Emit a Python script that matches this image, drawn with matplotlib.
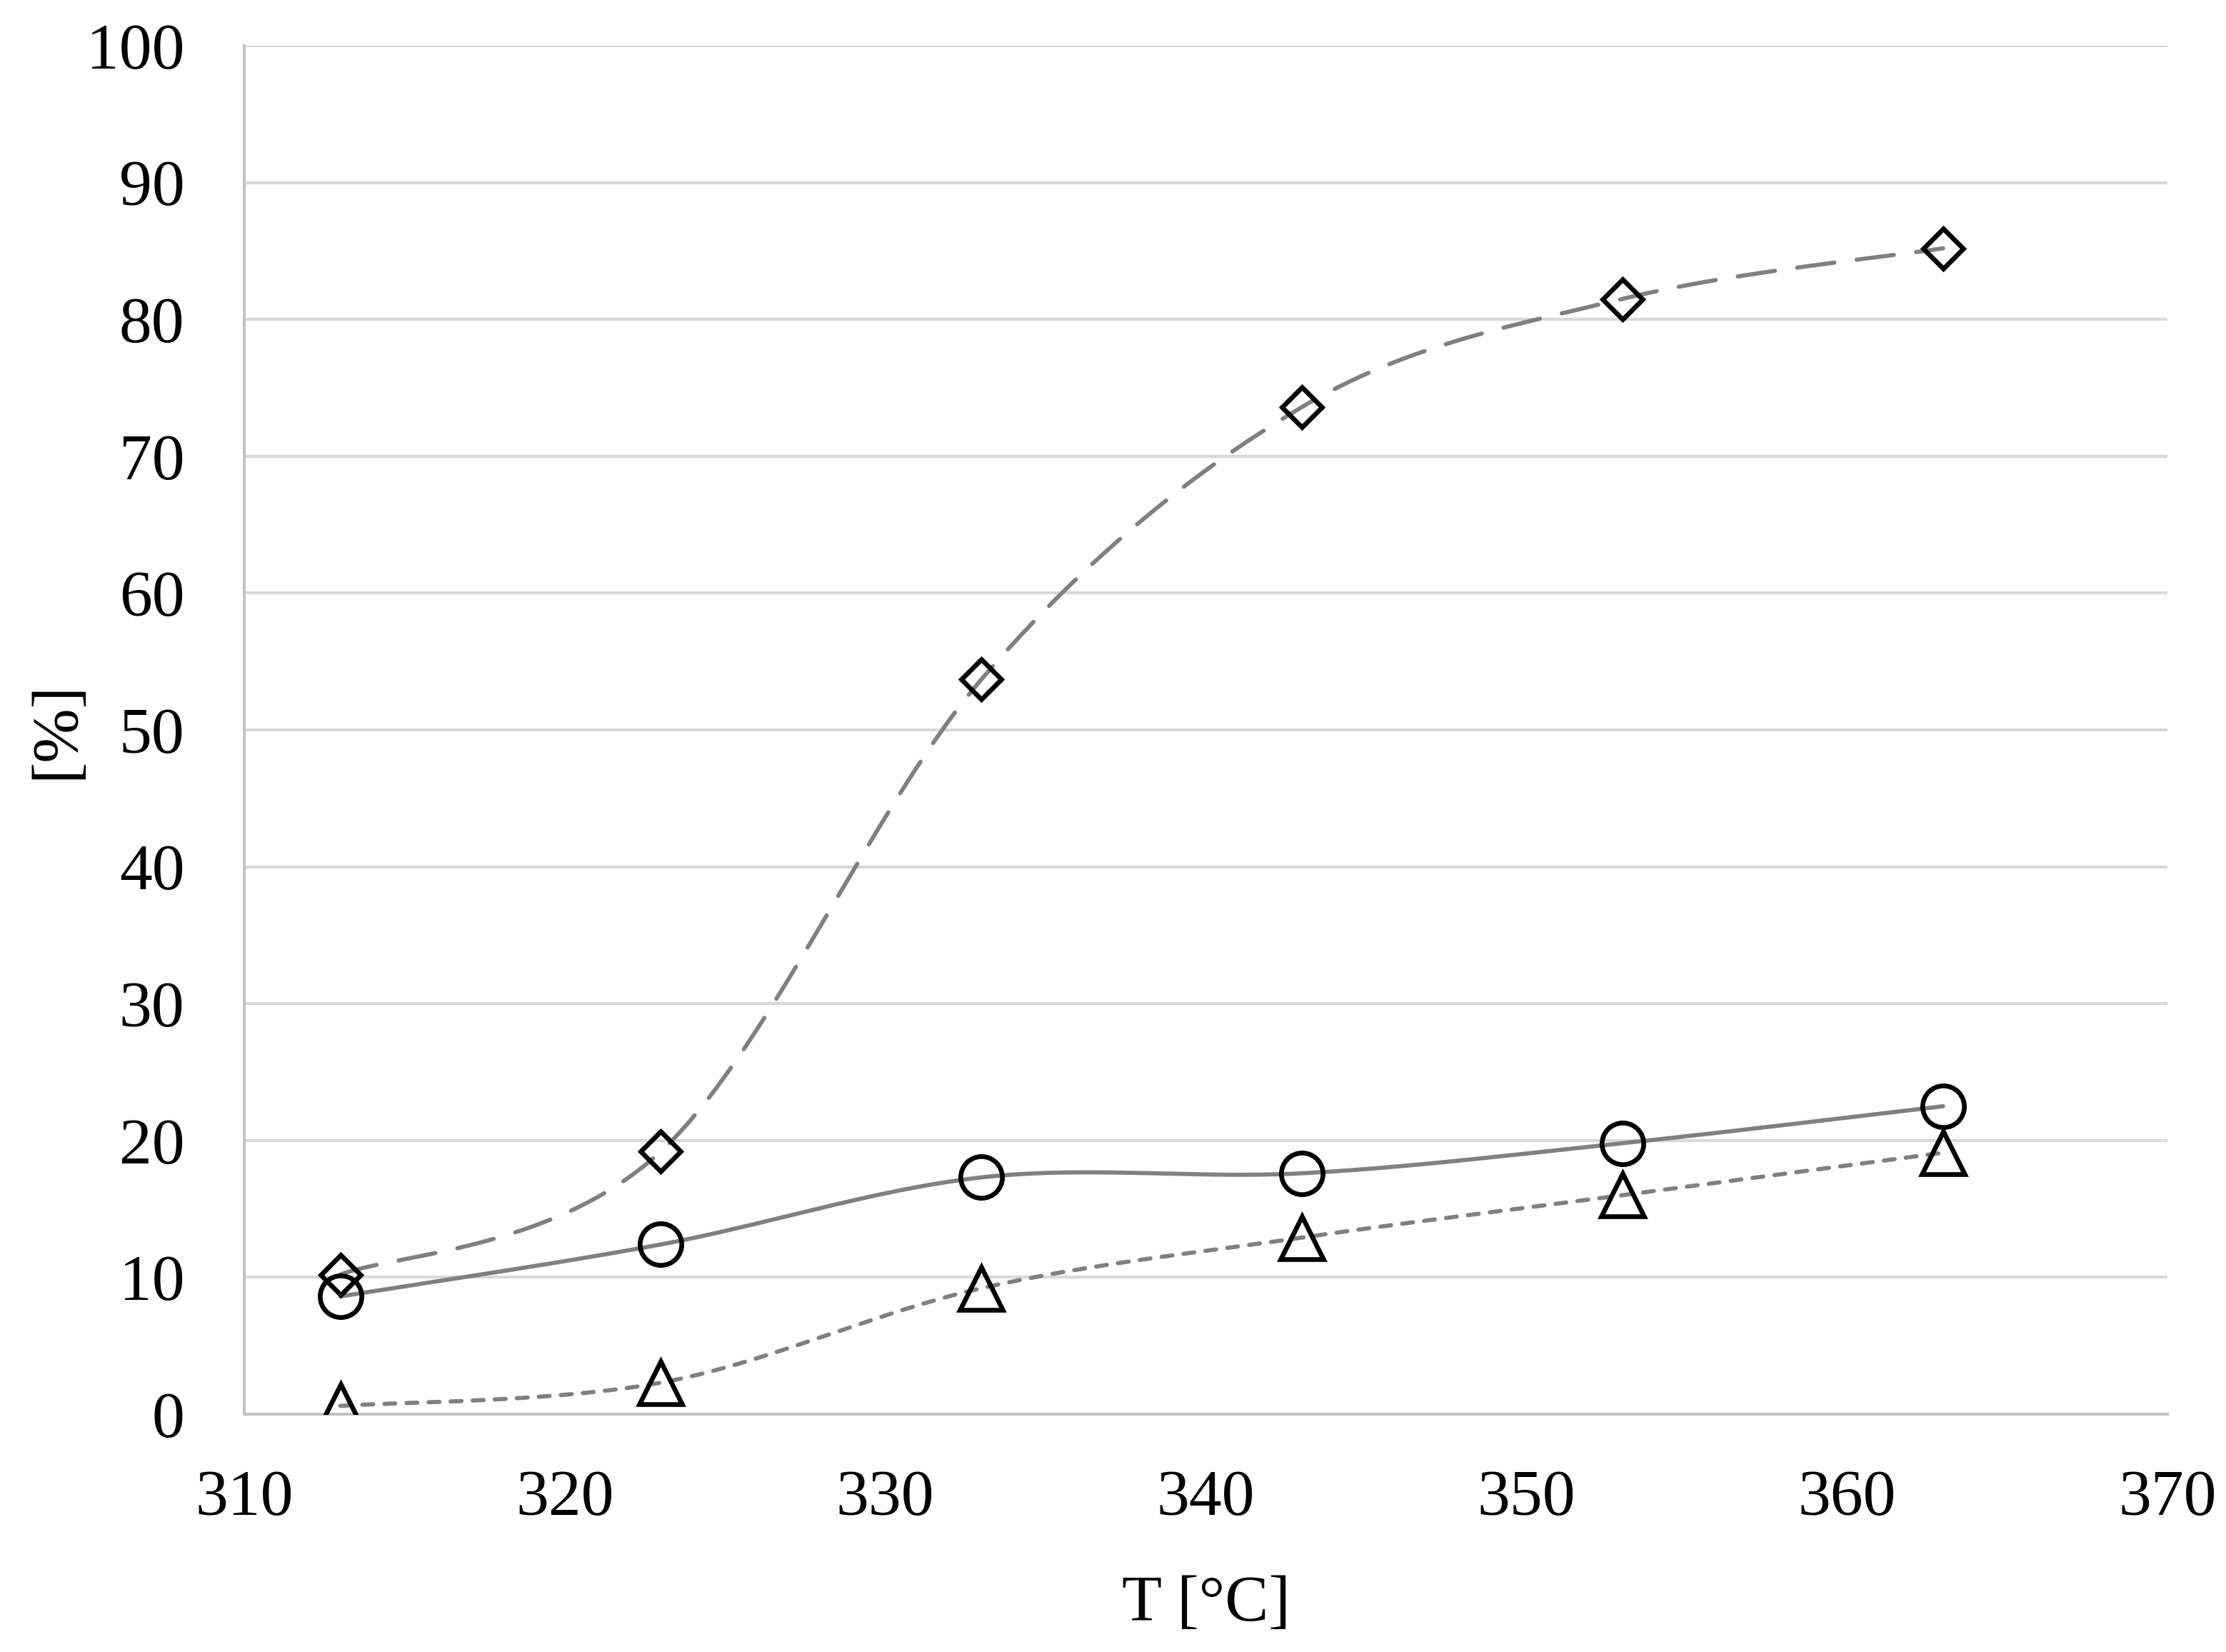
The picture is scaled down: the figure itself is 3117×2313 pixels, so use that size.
import numpy as np
import matplotlib
matplotlib.use("Agg")
import matplotlib.pyplot as plt

plt.rcParams['font.family'] = ['Liberation Serif', 'DejaVu Serif']

# data
temps = [313, 323, 333, 343, 353, 363]
diamond_vals = [10.2, 19.2, 53.7, 73.6, 81.5, 85.2]
circle_vals = [8.6, 12.4, 17.3, 17.6, 19.8, 22.5]
triangle_vals = [0.6, 2.3, 9.2, 12.9, 16.0, 19.1]

xticks = [310, 320, 330, 340, 350, 360, 370]
yticks = [0, 10, 20, 30, 40, 50, 60, 70, 80, 90, 100]

LINE = '#808080'
GRID = '#d9d9d9'
SPINE = '#c4c4c4'


def smooth(x, y, n=40):
    # Excel-like smoothed line (Catmull-Rom bezier through the points)
    x = np.asarray(x, float)
    y = np.asarray(y, float)
    px = np.concatenate([[x[0]], x, [x[-1]]])
    py = np.concatenate([[y[0]], y, [y[-1]]])
    xs, ys = [], []
    t = np.linspace(0, 1, n)
    for i in range(1, len(px) - 2):
        p0 = np.array([px[i], py[i]])
        p3 = np.array([px[i + 1], py[i + 1]])
        c1 = p0 + (np.array([px[i + 1], py[i + 1]]) - np.array([px[i - 1], py[i - 1]])) / 6
        c2 = p3 - (np.array([px[i + 2], py[i + 2]]) - np.array([px[i], py[i]])) / 6
        b = ((1 - t) ** 3)[:, None] * p0 + (3 * (1 - t) ** 2 * t)[:, None] * c1 \
            + (3 * (1 - t) * t ** 2)[:, None] * c2 + (t ** 3)[:, None] * p3
        xs.append(b[:, 0])
        ys.append(b[:, 1])
    return np.concatenate(xs), np.concatenate(ys)


fig = plt.figure(figsize=(31.17, 23.13), dpi=100)
ax = fig.add_axes([0.1097, 0.1440, 0.8640, 0.8283])

lw = 4.2
sx, sy = smooth(temps, diamond_vals)
l1, = ax.plot(sx, sy, color=LINE, lw=lw, zorder=2, dash_capstyle='round')
l1.set_dashes((9, 5.4))
sx, sy = smooth(temps, circle_vals)
ax.plot(sx, sy, color=LINE, lw=lw, zorder=2, solid_capstyle='round')
sx, sy = smooth(temps, triangle_vals)
l3, = ax.plot(sx, sy, color=LINE, lw=lw, zorder=2, dash_capstyle='round')
l3.set_dashes((2.6, 2.7))

mk = dict(linestyle='none', markerfacecolor='none', markeredgecolor='black',
          markeredgewidth=4.8, zorder=3)
ax.plot(temps, diamond_vals, marker='D', markersize=29, **mk)
ax.plot(temps, circle_vals, marker='o', markersize=42, **mk)
ax.plot(temps, triangle_vals, marker='^', markersize=43, **mk)

ax.set_xlim(310, 370)
ax.set_ylim(0, 100)
ax.set_xticks(xticks)
ax.set_yticks(yticks)
ax.yaxis.grid(True, color=GRID, lw=3.0, zorder=0)
ax.set_axisbelow(True)
ax.tick_params(axis='both', length=0, labelsize=66)
ax.tick_params(axis='y', pad=60)
ax.tick_params(axis='x', pad=56)

for s in ['top', 'right']:
    ax.spines[s].set_visible(False)
for s in ['left', 'bottom']:
    ax.spines[s].set_color(SPINE)
    ax.spines[s].set_linewidth(3.0)

ax.set_xlabel('T [°C]', fontsize=66)
ax.set_ylabel('[%]', fontsize=66)
ax.xaxis.set_label_coords(0.5, -0.118)
ax.yaxis.set_label_coords(-0.082, 0.5)

fig.savefig('out.png', dpi=100)
